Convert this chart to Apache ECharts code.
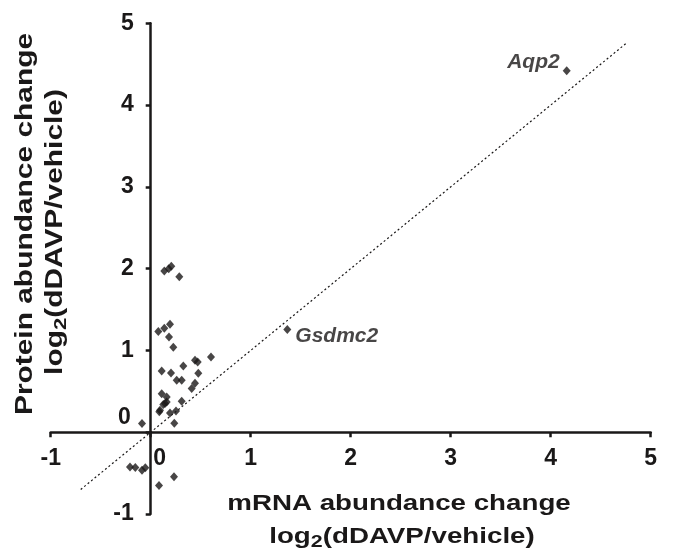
<!DOCTYPE html>
<html>
<head>
<meta charset="utf-8">
<script src="https://cdn.jsdelivr.net/npm/echarts@6/dist/echarts.min.js"></script>
<style>
html,body{margin:0;padding:0;background:#fff;}
#chart{width:674px;height:555px;}
</style>
</head>
<body>
<div id="chart"></div>
<script>
// ---- data ----
const mrnaChange = [0.136, 0.18, 0.206, 0.286, 0.076, 0.136, 0.193, 0.183, 0.226,
  0.11, 0.203, 0.326, 0.443, 0.47, 0.603, 0.476, 0.26, 0.31, 0.443, 0.41,
  0.11, 0.16, 0.126, 0.16, 0.143, 0.31, 0.093, 0.086, 0.193, 0.253, 0.236,
  -0.087, -0.207, -0.154, -0.087, -0.054, 0.233, 0.083];
const proteinChange = [1.97, 2.0, 2.03, 1.9, 1.23, 1.27, 1.32, 1.165, 1.04,
  0.75, 0.725, 0.81, 0.88, 0.86, 0.92, 0.72, 0.635, 0.635, 0.6, 0.535,
  0.47, 0.43, 0.34, 0.37, 0.35, 0.38, 0.27, 0.25, 0.236, 0.26, 0.11,
  0.106, -0.424, -0.43, -0.465, -0.436, -0.546, -0.652];
const labeledGenes = ['Aqp2', 'Gsdmc2'];
const labeledMrna = [4.16, 1.366];
const labeledProtein = [4.42, 1.255];
const identityX = [-0.7, 4.75];
const identityY = [-0.7, 4.75];
const xTickLabels = ['-1', '0', '1', '2', '3', '4', '5'];
const yTickLabels = ['-1', '0', '1', '2', '3', '4', '5'];
const xTitle = ['mRNA abundance change', 'log', '2', '(dDAVP/vehicle)'];
const yTitle = ['Protein abundance change', 'log', '2', '(dDAVP/vehicle)'];

// ---- styling ----
const FONT = '"Liberation Sans", Arial, Helvetica, sans-serif';
const INK = '#1a1818';

const chart = echarts.init(document.getElementById('chart'), null, {renderer: 'canvas'});

const pts = mrnaChange.map((x, i) => [x, proteinChange[i]]);
const labelCfg = [
  {position: 'left', distance: 3, offset: [0, -9]},
  {position: 'right', distance: 4, offset: [0, 7]}
];
const labeledData = labeledGenes.map((g, i) => ({
  value: [labeledMrna[i], labeledProtein[i]],
  name: g,
  label: Object.assign({
    show: true, formatter: g, fontStyle: 'italic', fontWeight: 'bold',
    fontSize: 21, fontFamily: FONT, color: INK, textBorderWidth: 0
  }, labelCfg[i])
}));

const axisCommon = {
  type: 'value', min: -1, max: 5, interval: 1,
  axisLine: {show: true, onZero: true, lineStyle: {color: INK, width: 2.5}},
  axisTick: {show: true, length: 5, lineStyle: {color: INK, width: 2.5}},
  splitLine: {show: false}
};
const tickFont = {fontSize: 23, fontWeight: 'bold', fontFamily: FONT, color: INK};

function titleGraphics(lines, cfg) {
  const base = {fontSize: cfg.fs, fontWeight: 'bold', fontFamily: FONT, fill: INK};
  return [
    {
      type: 'text', x: cfg.x1, y: cfg.y1, rotation: cfg.rot, scaleX: cfg.sx, silent: true,
      style: Object.assign({text: lines[0], align: 'center', verticalAlign: 'middle'}, base)
    },
    {
      type: 'text', x: cfg.x2, y: cfg.y2, rotation: cfg.rot, scaleX: cfg.sx, silent: true,
      style: {
        text: '{a|' + lines[1] + '}{s|' + lines[2] + '}{a|' + lines[3] + '}',
        align: 'center', verticalAlign: 'middle', fill: INK,
        rich: {
          a: {fontSize: cfg.fs, fontWeight: 'bold', fontFamily: FONT, fill: INK, lineHeight: 28},
          s: {fontSize: 17, fontWeight: 'bold', fontFamily: FONT, fill: INK, lineHeight: 4, verticalAlign: 'bottom'}
        }
      }
    }
  ];
}

const option = {
  animation: false,
  backgroundColor: '#fff',
  grid: {left: 50.7, right: 23.3, top: 23.3, bottom: 41, containLabel: false},
  xAxis: Object.assign({}, axisCommon, {
    axisLabel: Object.assign({
      margin: -67, showMinLabel: true, showMaxLabel: true,
      formatter: v => {
        const t = xTickLabels[Math.round(v) + 1];
        return v === 0 ? '{z|' + t + '}' : t;
      },
      rich: {z: Object.assign({padding: [0, 0, 0, 18]}, tickFont)}
    }, tickFont)
  }),
  yAxis: Object.assign({}, axisCommon, {
    axisLabel: Object.assign({
      margin: -83, showMinLabel: true, showMaxLabel: true,
      formatter: v => {
        const t = yTickLabels[Math.round(v) + 1];
        return v === 0 ? '{z|' + t + '}' : t;
      },
      rich: {z: Object.assign({padding: [0, 3, 30, 0]}, tickFont)}
    }, tickFont)
  }),
  series: [
    {
      type: 'line', data: identityX.map((x, i) => [x, identityY[i]]),
      symbol: 'none', silent: true,
      lineStyle: {color: INK, width: 1.2, type: [2, 2.5]}, z: 1
    },
    {
      type: 'scatter', data: pts, symbol: 'diamond', symbolSize: [8, 9],
      itemStyle: {color: INK}, z: 3
    },
    {
      type: 'scatter', data: labeledData, symbol: 'diamond', symbolSize: [8, 9],
      itemStyle: {color: INK}, z: 3
    }
  ],
  graphic: [].concat(
    titleGraphics(xTitle, {x1: 399, y1: 504, x2: 402, y2: 537, rot: 0, sx: 1.26, fs: 22}),
    titleGraphics(yTitle, {x1: 26, y1: 224, x2: 56, y2: 232, rot: Math.PI / 2, sx: 1.3, fs: 23})
  )
};
chart.setOption(option);
</script>
</body>
</html>
